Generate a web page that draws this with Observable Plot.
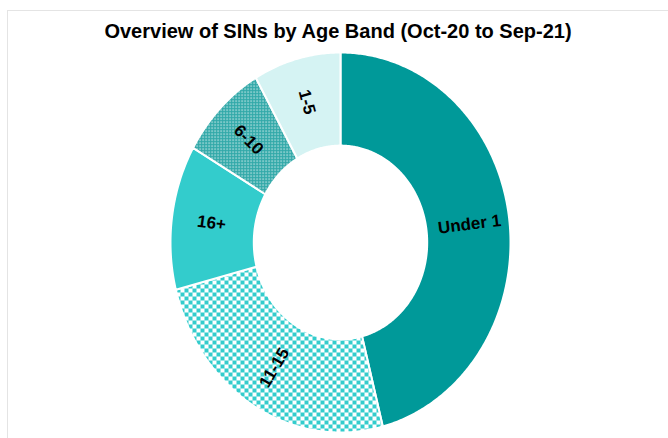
<!DOCTYPE html>
<html>
<head>
<meta charset="utf-8">
<script src="https://cdn.jsdelivr.net/npm/d3@7"></script>
<script src="https://cdn.jsdelivr.net/npm/@observablehq/plot@0.6"></script>
<style>
  html, body { margin: 0; padding: 0; background: #fff; }
  body { width: 668px; height: 438px; position: relative; overflow: hidden; font-family: "Liberation Sans", Arial, sans-serif; }
  #frame { position: absolute; left: 7px; top: 10px; width: 700px; height: 460px; border-left: 1px solid #e4e4e4; border-top: 1px solid #e4e4e4; }
  #title { position: absolute; left: 0; top: 20px; width: 676px; text-align: center; font-weight: bold; font-size: 20px; color: #000; white-space: nowrap; }
  #chart { position: absolute; left: 0; top: 0; }
</style>
</head>
<body>
<div id="frame"></div>
<div id="title">Overview of SINs by Age Band (Oct-20 to Sep-21)</div>
<div id="chart"></div>
<script>
// Data, clockwise from 12 o'clock
const categories = ["Under 1", "11-15", "16+", "6-10", "1-5"];
const values = [46, 25, 12.3, 8.4, 8.3];
const fills = ["#009999", "url(#checker)", "#33CCCC", "url(#dots)", "#D5F3F3"];

const W = 668, H = 438;
const cx = 340, cy = 242, rx = 170, ry = 190;
const inner = 0.51, labelR = 0.765;

const total = d3.sum(values);
let acc = 0;
const slices = categories.map((c, i) => {
  const a0 = acc / total * 2 * Math.PI;
  acc += values[i];
  const a1 = acc / total * 2 * Math.PI;
  return {category: c, value: values[i], a0, a1, fill: fills[i]};
});

// polygon points in data units (unit circle), angle clockwise from top
function ring(s) {
  const n = Math.max(8, Math.ceil((s.a1 - s.a0) / 0.01));
  const pts = [];
  for (let k = 0; k <= n; k++) {
    const a = s.a0 + (s.a1 - s.a0) * k / n;
    pts.push({x: Math.sin(a), y: Math.cos(a), category: s.category});
  }
  for (let k = n; k >= 0; k--) {
    const a = s.a0 + (s.a1 - s.a0) * k / n;
    pts.push({x: inner * Math.sin(a), y: inner * Math.cos(a), category: s.category});
  }
  pts.push(pts[0]);
  return pts;
}

const labels = slices.map(s => {
  const m = (s.a0 + s.a1) / 2;
  let rot = m * 180 / Math.PI - 90;
  while (rot > 90) rot -= 180;
  while (rot < -90) rot += 180;
  return {x: labelR * Math.sin(m), y: labelR * Math.cos(m), text: s.category, rotate: rot};
});

const plot = Plot.plot({
  width: W, height: H,
  margin: 0,
  x: {domain: [-cx / rx, (W - cx) / rx], axis: null},
  y: {domain: [-(H - cy) / ry, cy / ry], axis: null},
  marks: [
    ...slices.map(s => Plot.line(ring(s), {x: "x", y: "y", fill: s.fill, stroke: "white", strokeWidth: 2, curve: "linear"})),
    Plot.text(labels, {x: "x", y: "y", text: "text", rotate: "rotate", fontSize: 17, fontWeight: "bold", fill: "black", fontFamily: "Liberation Sans, Arial, sans-serif"})
  ]
});

const svg = d3.select(plot);
svg.style("background", "transparent").style("overflow", "visible");
const defs = svg.insert("defs", ":first-child");
const chk = defs.append("pattern").attr("id", "checker").attr("patternUnits", "userSpaceOnUse").attr("width", 8).attr("height", 8);
chk.append("rect").attr("width", 8).attr("height", 8).attr("fill", "#ffffff");
chk.append("rect").attr("width", 4).attr("height", 4).attr("fill", "#33CCCC");
chk.append("rect").attr("x", 4).attr("y", 4).attr("width", 4).attr("height", 4).attr("fill", "#33CCCC");
const dots = defs.append("pattern").attr("id", "dots").attr("patternUnits", "userSpaceOnUse").attr("width", 3).attr("height", 3);
dots.append("rect").attr("width", 3).attr("height", 3).attr("fill", "#2FA8A8");
dots.append("rect").attr("x", 1).attr("y", 1).attr("width", 1.2).attr("height", 1.2).attr("fill", "#ffffff");

document.getElementById("chart").appendChild(plot);
</script>
</body>
</html>
